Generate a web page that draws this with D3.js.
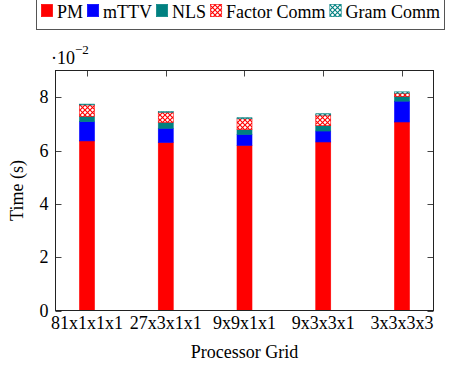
<!DOCTYPE html>
<html>
<head>
<meta charset="utf-8">
<script src="https://cdn.jsdelivr.net/npm/d3@7"></script>
<style>
  html, body { margin: 0; padding: 0; background: #fff; }
  svg text { font-family: "Liberation Serif", "DejaVu Serif", serif; fill: #000; }
</style>
</head>
<body>
<div id="chart"></div>
<script>
// values in units of 10^-2 s
const grids = ['81x1x1x1', '27x3x1x1', '9x9x1x1', '9x3x3x1', '3x3x3x3'];
const pm = [6.36, 6.30, 6.19, 6.32, 7.07];
const mttv = [0.72, 0.53, 0.41, 0.41, 0.78];
const nls = [0.20, 0.22, 0.18, 0.20, 0.18];
const factorComm = [0.43, 0.38, 0.41, 0.40, 0.12];
const gramComm = [0.03, 0.03, 0.04, 0.05, 0.05];
const yTicks = [0, 2, 4, 6, 8];

const seriesNames = ['PM', 'mTTV', 'NLS', 'Factor Comm', 'Gram Comm'];
const seriesValues = [pm, mttv, nls, factorComm, gramComm];

const width = 450, height = 368;
const margin = { left: 55.5, right: 16.5, top: 70.5, bottom: 57.5 };

const svg = d3.select('#chart').append('svg')
  .attr('width', width)
  .attr('height', height)
  .attr('font-family', '"Liberation Serif", serif');

// hatch patterns
const defs = svg.append('defs');
function hatch(id, colour) {
  let p = defs.append('pattern')
    .attr('id', id)
    .attr('patternUnits', 'userSpaceOnUse')
    .attr('width', 5)
    .attr('height', 5);
  p.append('rect').attr('width', 5).attr('height', 5).attr('fill', '#fff');
  p.append('path')
    .attr('d', 'M0,0 L5,5 M5,0 L0,5')
    .attr('stroke', colour)
    .attr('stroke-width', 1.1);
}
hatch('hatchRed', '#ff0000');
hatch('hatchTeal', '#008080');

const fills = ['#ff0000', '#0000ff', '#008080', 'url(#hatchRed)', 'url(#hatchTeal)'];
const strokes = ['#ff0000', '#0000ff', '#008080', '#ff0000', '#008080'];

// table for stacking
let table = grids.map(function(g, i) {
  let row = { grid: g, idx: i };
  seriesNames.forEach(function(n, j) { row[n] = seriesValues[j][i]; });
  return row;
});
let stacked = d3.stack().keys(seriesNames)(table);

let x = d3.scaleLinear()
  .domain([-0.4, grids.length - 1 + 0.4])
  .range([margin.left, width - margin.right]);

let y = d3.scaleLinear()
  .domain([0, 9])
  .range([height - margin.bottom, margin.top]);

const barW = 15;

// bars
stacked.forEach(function(layer, j) {
  svg.append('g').selectAll('rect')
    .data(layer)
    .enter()
    .append('rect')
    .attr('x', function(d) { return x(d.data.idx) - barW / 2; })
    .attr('y', function(d) { return y(d[1]); })
    .attr('width', barW)
    .attr('height', function(d) { return y(d[0]) - y(d[1]); })
    .attr('fill', fills[j])
    .attr('stroke', strokes[j])
    .attr('stroke-width', 0.6);
});

// axes box
let x0 = margin.left, x1 = width - margin.right;
let y0 = height - margin.bottom, y1 = margin.top;

let tickLen = 6;
let ticks = svg.append('g').attr('stroke', '#444').attr('stroke-width', 1);
yTicks.forEach(function(t) {
  let yy = Math.round(y(t)) + 0.5;
  ticks.append('line').attr('x1', x0).attr('x2', x0 + tickLen).attr('y1', yy).attr('y2', yy);
  ticks.append('line').attr('x1', x1).attr('x2', x1 - tickLen).attr('y1', yy).attr('y2', yy);
});
grids.forEach(function(g, i) {
  let xx = Math.round(x(i)) + 0.5;
  ticks.append('line').attr('x1', xx).attr('x2', xx).attr('y1', y1).attr('y2', y1 + tickLen);
});

svg.append('rect')
  .attr('x', x0).attr('y', y1)
  .attr('width', x1 - x0).attr('height', y0 - y1)
  .attr('fill', 'none')
  .attr('stroke', '#222')
  .attr('stroke-width', 1);

// y tick labels
svg.append('g').selectAll('text')
  .data(yTicks)
  .enter()
  .append('text')
  .attr('x', x0 - 7)
  .attr('y', function(d) { return y(d) + 6; })
  .attr('text-anchor', 'end')
  .style('font-size', '18px')
  .text(function(d) { return d; });

// x tick labels
svg.append('g').selectAll('text')
  .data(grids)
  .enter()
  .append('text')
  .attr('x', function(d, i) { return x(i); })
  .attr('y', y0 + 18)
  .attr('text-anchor', 'middle')
  .style('font-size', '18px')
  .text(function(d) { return d; });

// scale factor
let sf = svg.append('text')
  .attr('x', 51)
  .attr('y', 64)
  .style('font-size', '18px');
sf.append('tspan').text('·10');
sf.append('tspan').attr('dy', -10).style('font-size', '13px').text('−2');

// axis titles
svg.append('text')
  .attr('x', (x0 + x1) / 2)
  .attr('y', 358)
  .attr('text-anchor', 'middle')
  .style('font-size', '18px')
  .text('Processor Grid');

svg.append('text')
  .attr('transform', 'translate(23,' + ((y0 + y1) / 2) + ') rotate(-90)')
  .attr('text-anchor', 'middle')
  .style('font-size', '18px')
  .text('Time (s)');

// legend
let legend = svg.append('g');
legend.append('rect')
  .attr('x', 36.5).attr('y', -10)
  .attr('width', 408).attr('height', 39.5)
  .attr('fill', '#fff')
  .attr('stroke', '#555')
  .attr('stroke-width', 1);

let lx = 41;
seriesNames.forEach(function(n, j) {
  legend.append('rect')
    .attr('x', lx + 0.3).attr('y', 4.3)
    .attr('width', 11.4).attr('height', 12.4)
    .attr('fill', fills[j])
    .attr('stroke', strokes[j])
    .attr('stroke-width', 0.6);
  let t = legend.append('text')
    .attr('x', lx + 16)
    .attr('y', 18)
    .style('font-size', '18px')
    .text(n);
  lx = lx + 16 + t.node().getComputedTextLength() + 4;
});
</script>
</body>
</html>
